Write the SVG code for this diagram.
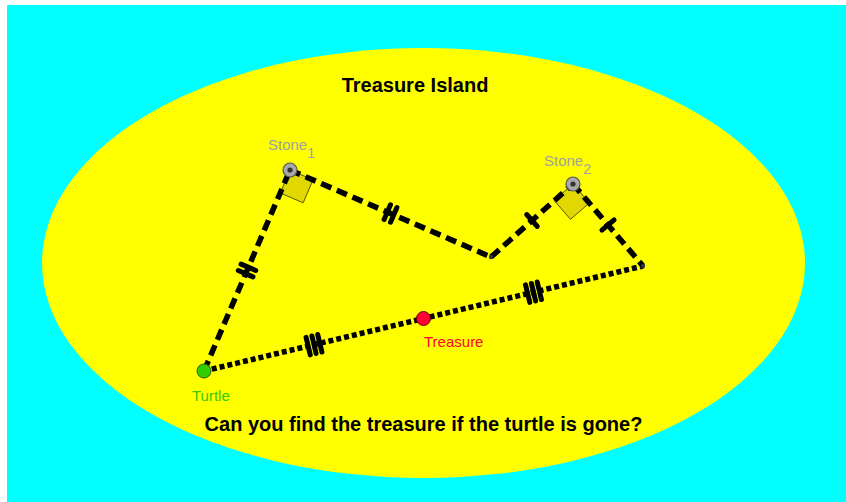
<svg xmlns="http://www.w3.org/2000/svg" width="846" height="502" viewBox="0 0 846 502">
<style>
.dash{fill:none;stroke:#000;stroke-width:5.5;stroke-dasharray:11,6}
.dot{fill:none;stroke:#000;stroke-width:5.5;stroke-dasharray:5,3}
.tick{stroke:#000;stroke-width:5;stroke-linecap:round}
.sq{fill:#e0d800;stroke:#555500;stroke-width:1}
.stone{fill:#a8a8a8;stroke:#555;stroke-width:1.2}
.lbl{font-family:"Liberation Sans",Arial,sans-serif;font-size:15px}
.title{font-family:"Liberation Sans",Arial,sans-serif;font-size:20px;font-weight:bold;fill:#000}
</style>
<rect x="7" y="5" width="839" height="497" fill="#00ffff"/>
<ellipse cx="423.5" cy="263" rx="381.5" ry="215" fill="#ffff00"/>
<text class="title" x="415" y="92" text-anchor="middle">Treasure Island</text>
<text class="title" x="423.5" y="431" text-anchor="middle">Can you find the treasure if the turtle is gone?</text>

<g id="angles">
<polygon class="sq" points="290,170 280.2,193 303.2,202.8 313,179.8"/>
<polygon class="sq" points="573,184 554.1,200.4 570.5,219.3 589.4,202.9"/>
</g>

<g id="connectors">
<line class="dash" x1="204" y1="371" x2="290" y2="170"/>
<line class="dash" x1="290" y1="170" x2="491" y2="257"/>
<line class="dash" x1="491" y1="257" x2="573" y2="184"/>
<line class="dash" x1="573" y1="184" x2="643" y2="266"/>
<line class="dot" x1="204" y1="371" x2="643" y2="266"/>
<g transform="translate(247,270.5) rotate(-66.8)">
<line class="tick" x1="-3.5" y1="-8" x2="-3.5" y2="8"/><line class="tick" x1="3.5" y1="-8" x2="3.5" y2="8"/>
</g>
<g transform="translate(390.5,213.5) rotate(23.4)">
<line class="tick" x1="-3.5" y1="-8" x2="-3.5" y2="8"/><line class="tick" x1="3.5" y1="-8" x2="3.5" y2="8"/>
</g>
<g transform="translate(532,220.5) rotate(-41.7)">
<line class="tick" x1="0" y1="-8" x2="0" y2="8"/>
</g>
<g transform="translate(608,225) rotate(49.5)">
<line class="tick" x1="0" y1="-8" x2="0" y2="8"/>
</g>
<g transform="translate(314,344.7) rotate(-13.45)">
<line class="tick" x1="-6" y1="-9" x2="-6" y2="9"/><line class="tick" x1="0" y1="-9" x2="0" y2="9"/><line class="tick" x1="6" y1="-9" x2="6" y2="9"/>
</g>
<g transform="translate(533.5,292.2) rotate(-13.45)">
<line class="tick" x1="-6" y1="-9" x2="-6" y2="9"/><line class="tick" x1="0" y1="-9" x2="0" y2="9"/><line class="tick" x1="6" y1="-9" x2="6" y2="9"/>
</g>
</g>

<g id="vertex1"><circle cx="491" cy="257" r="2.2" fill="#333"/></g>
<g id="vertex2"><circle cx="643" cy="266" r="2.2" fill="#333"/></g>

<g id="stone1">
<circle class="stone" cx="290" cy="170" r="7"/>
<circle cx="290" cy="170" r="2.6" fill="#333"/>
<text class="lbl" x="268" y="150" fill="#a0a0a0">Stone<tspan dy="8" font-size="14">1</tspan></text>
</g>
<g id="stone2">
<circle class="stone" cx="573" cy="184" r="7"/>
<circle cx="573" cy="184" r="2.6" fill="#333"/>
<text class="lbl" x="544" y="166" fill="#a0a0a0">Stone<tspan dy="8" font-size="14">2</tspan></text>
</g>
<g id="turtle">
<circle cx="204" cy="371" r="7" fill="#33cc00" stroke="#226600" stroke-width="1"/>
<text class="lbl" x="192" y="401" fill="#33cc00">Turtle</text>
</g>
<g id="treasure">
<circle cx="423.5" cy="318.5" r="7" fill="#ff0033" stroke="#660000" stroke-width="1"/>
<text class="lbl" x="424" y="347" fill="#ff0033">Treasure</text>
</g>
</svg>
